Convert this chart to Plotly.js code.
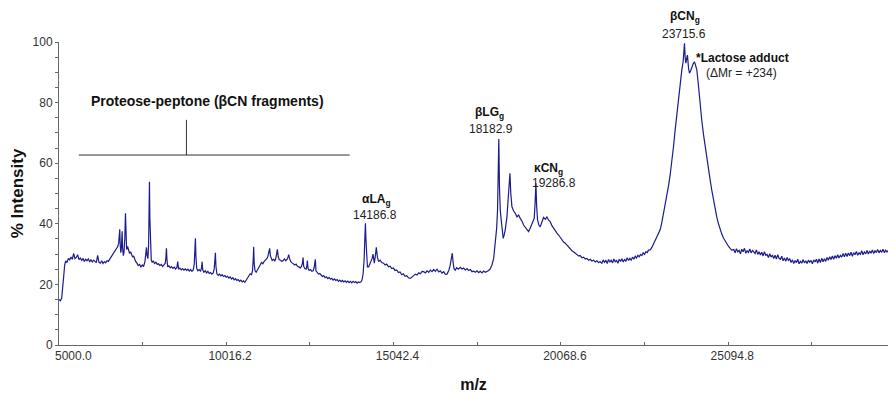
<!DOCTYPE html>
<html><head><meta charset="utf-8">
<script src="https://cdn.plot.ly/plotly-3.0.1.min.js"></script>
<style>html,body{margin:0;padding:0;background:#fff}#chart{width:888px;height:393px}</style>
</head><body><div id="chart"></div>
<script>
// [m/z, % intensity]
const lowMassStart = [
[5000,15.0],[5040,14.6],[5080,15.4],[5110,18.0],[5140,22.5],[5170,26.4],[5200,27.8],[5240,27.2],[5280,28.6],[5320,28.1],
[5360,29.0],[5400,28.3],[5440,30.2],[5480,28.5],[5520,28.9],[5560,29.8],[5600,28.2],[5640,28.7],[5680,27.9],[5720,28.5],
[5760,27.6],[5800,28.3],[5840,27.8],[5880,28.4],[5920,27.5],[5960,28.1],[6000,27.4],[6040,28.0],[6080,27.6],[6120,27.2],
[6160,29.6],[6200,27.3],[6240,27.0],[6280,27.8],[6320,26.9],[6360,27.5],[6400,27.1],[6440,27.8]
];
const peptoneRegion = [
[6480,27.6],[6520,28.3],[6560,28.9],[6600,29.6],[6640,30.2],[6680,30.8],[6720,31.6],[6760,32.4],[6790,33.5],[6810,36.0],
[6824,38.2],[6838,33.0],[6855,30.5],[6870,31.5],[6884,34.5],[6896,37.5],[6910,32.0],[6930,29.5],[6950,30.5],[6975,35.0],
[6995,43.5],[7012,35.0],[7030,31.5],[7060,32.5],[7090,31.0],[7120,30.2],[7150,30.8],[7180,29.6],[7210,29.0],[7240,29.4],
[7270,28.2],[7300,27.6],[7340,27.0],[7380,26.2],[7420,26.6],[7460,25.8],[7500,26.4],[7540,25.9],[7580,27.5],[7610,30.0],
[7626,32.2],[7645,29.5],[7670,28.5],[7690,33.0],[7705,45.0],[7716,53.9],[7728,42.0],[7745,31.0],[7770,28.0],[7800,27.2],
[7830,27.8],[7870,26.9],[7910,27.3],[7950,26.6],[7990,26.8],[8030,26.2],[8070,26.6],[8110,25.9],[8150,26.3],[8190,27.0],
[8210,29.0],[8226,31.9],[8242,28.0],[8265,25.8],[8300,26.1],[8340,25.5],[8380,25.9],[8420,25.3],[8460,25.7],[8500,25.1],
[8540,25.6],[8565,27.5],[8590,25.0],[8630,25.4],[8670,24.8],[8710,25.2],[8750,24.7],[8790,25.1],[8830,24.6],[8870,25.0],
[8910,24.4],[8950,24.9],[8990,24.3],[9030,24.8],[9060,26.5],[9080,30.0],[9096,35.2],[9112,29.0],[9135,25.2],[9170,24.5],
[9210,24.9],[9250,24.3],[9280,25.5],[9297,27.5],[9315,24.8],[9350,24.0],[9390,24.5],[9430,23.8],[9470,24.3],[9510,23.6],
[9550,23.9],[9590,23.4],[9630,23.8],[9660,25.2],[9680,27.5],[9696,30.4],[9712,26.0],[9740,23.5],[9780,23.0],[9820,23.4],
[9860,22.8],[9900,23.2],[9940,22.6],[9980,22.9],[10020,22.4],[10060,22.7],[10100,22.1],[10140,22.5],[10180,21.8],[10220,22.2],
[10260,21.5],[10300,21.9],[10340,21.3],[10380,21.6],[10420,21.0],[10460,21.4],[10500,20.8],[10540,21.2],[10580,20.7],[10620,21.3],
[10660,21.9],[10700,22.8],[10740,23.5],[10780,23.2],[10810,24.5],[10830,28.0],[10845,32.4],[10860,27.0],[10885,24.5],[10920,24.0],
[10960,25.0],[11000,25.6],[11040,26.4],[11080,27.2],[11120,26.8],[11160,27.6],[11200,27.9],[11240,28.5],[11270,29.2],[11300,30.5],
[11325,31.9],[11345,29.5],[11370,28.6],[11400,27.9],[11440,28.3],[11480,27.8],[11510,28.6],[11535,30.0],[11557,31.6],[11580,29.2],
[11610,28.2],[11650,28.0],[11690,27.6],[11730,27.9],[11770,28.4],[11810,27.8],[11850,28.3],[11875,29.0],[11896,29.8],[11920,28.6],
[11960,27.5],[12000,27.1],[12040,26.8],[12080,26.4],[12120,26.7],[12160,26.0],[12200,25.8],[12240,25.4],[12280,25.9],[12310,27.0],
[12328,28.9],[12345,26.0],[12380,25.2],[12420,25.0],[12445,26.3],[12457,27.9],[12475,25.3],[12510,24.6],[12550,24.9],[12590,24.3],
[12630,24.5],[12660,25.5],[12680,27.0],[12697,28.3],[12715,24.5],[12750,23.8],[12790,23.4],[12830,23.6],[12870,22.9],[12910,22.6],
[12950,22.9],[12990,22.2],[13030,22.5],[13070,21.9],[13110,22.3],[13150,21.7],[13190,22.0],[13230,21.4],[13270,21.8],[13310,21.3],
[13350,21.6],[13390,21.0],[13430,21.4],[13470,20.9],[13510,21.3],[13550,20.8],[13590,21.2],[13630,20.7],[13670,21.1],[13710,20.6],
[13750,21.0],[13790,20.5],[13830,21.0],[13870,20.6],[13910,20.9],[13950,20.4],[13990,20.8]
];
const wheyRegion = [
[14030,20.6],[14070,20.9],[14100,21.5],[14130,23.5],[14160,28.0],[14185,36.0],[14200,40.2],[14215,35.0],[14235,27.5],[14260,25.8],
[14297,25.8],[14340,27.0],[14400,28.5],[14428,30.0],[14467,27.0],[14500,29.5],[14527,32.2],[14560,29.0],[14597,27.5],[14640,28.0],
[14690,27.2],[14747,27.0],[14790,26.4],[14840,26.7],[14890,25.8],[14940,26.0],[14990,25.2],[15040,25.4],[15090,24.6],[15140,24.8],
[15190,23.9],[15240,24.1],[15290,23.2],[15340,23.5],[15390,22.7],[15440,22.9],[15490,22.2],[15548,22.0],[15600,22.6],[15650,22.9],
[15700,23.4],[15750,23.1],[15800,23.8],[15850,23.5],[15900,24.3],[15947,24.2],[16000,23.8],[16050,24.5],[16100,24.0],[16150,24.7],
[16200,24.2],[16250,24.9],[16300,24.3],[16350,25.0],[16400,24.1],[16448,24.5],[16500,23.7],[16550,24.2],[16600,23.3],[16648,23.4],
[16700,24.5],[16740,26.0],[16770,28.0],[16790,29.8],[16808,30.3],[16830,27.5],[16860,25.2],[16898,24.7],[16940,25.5],[16990,25.0],
[17048,25.6],[17100,25.1],[17150,25.4],[17200,24.8],[17250,25.2],[17300,24.6],[17350,24.9],[17400,24.2],[17447,24.4],[17500,24.0],
[17550,24.5],[17600,23.9],[17650,24.3],[17700,23.8],[17750,24.4],[17800,24.0],[17849,24.2],[17900,24.6],[17950,25.2],[17999,26.4],
[18050,28.5],[18098,33.6],[18140,38.5],[18167,44.6],[18190,58.0],[18205,68.0],[18225,52.0],[18248,44.6],[18287,40.2],[18315,36.5],
[18338,35.2],[18370,36.5],[18398,38.0],[18449,42.3],[18490,48.0],[18520,54.0],[18539,56.7],[18565,50.0],[18599,45.6],[18650,44.2],
[18698,43.5],[18750,42.3],[18800,42.9],[18848,41.8],[18900,40.9],[18948,39.6],[19000,38.9],[19050,38.0],[19098,37.4],[19150,38.6],
[19199,40.2],[19240,41.2],[19268,41.8],[19295,47.0],[19319,53.4],[19340,46.0],[19368,41.3],[19410,39.5],[19448,39.0],[19500,40.6],
[19548,42.1],[19600,41.5],[19649,42.3],[19700,41.2],[19748,40.7],[19800,39.4],[19850,38.5],[19900,37.6],[19949,36.9],[20000,36.3],
[20050,35.4],[20100,34.9],[20150,34.0],[20200,33.6],[20249,33.0],[20300,32.2],[20350,31.8],[20400,31.1],[20448,30.8],[20500,30.2],
[20550,29.9],[20600,29.4],[20650,29.5],[20700,28.8],[20750,29.0],[20800,28.4],[20849,28.6],[20900,28.0],[20950,28.3],[21000,27.7],
[21050,28.0],[21100,27.4],[21150,27.8],[21200,27.2],[21249,27.5]
];
const caseinRegion = [
[21300,27.0],[21340,28.1],[21380,27.3],[21420,27.9],[21460,26.9],[21500,28.2],[21540,27.4],[21580,28.0],[21620,27.1],[21660,28.4],
[21700,27.5],[21740,27.9],[21780,27.0],[21820,28.3],[21860,27.6],[21900,28.5],[21940,27.4],[21980,28.2],[22020,27.7],[22060,28.8],
[22100,27.9],[22140,28.6],[22180,28.0],[22220,29.0],[22260,28.3],[22300,29.3],[22340,28.7],[22380,29.6],[22420,29.1],[22460,29.9],
[22500,29.5],[22540,30.4],[22580,29.9],[22620,30.8],[22660,30.5],[22700,31.3],[22749,31.4],[22800,32.2],[22850,33.4],[22900,34.5],
[22950,35.6],[23000,36.8],[23049,38.0],[23100,40.5],[23150,43.3],[23200,46.0],[23250,48.9],[23300,52.5],[23350,56.2],[23400,60.0],
[23450,65.5],[23500,71.0],[23550,76.5],[23600,81.5],[23650,86.0],[23700,90.8],[23740,93.5],[23765,97.0],[23779,99.6],[23800,95.0],
[23821,93.0],[23845,94.5],[23869,95.7],[23900,91.5],[23929,89.7],[23965,90.5],[24001,91.9],[24040,92.8],[24079,93.5],[24115,92.2],
[24151,90.8],[24200,85.5],[24250,78.6],[24300,74.0],[24350,69.5],[24400,65.4],[24450,61.6],[24500,58.0],[24550,54.5],[24600,51.0],
[24650,47.6],[24700,44.6],[24750,42.2],[24800,40.0],[24850,38.0],[24900,36.6],[24950,35.3],[25000,34.3],[25050,33.6],[25100,32.6],
[25150,31.9],[25200,31.3],[25260,31.5],[25300,30.4],[25340,31.8],[25380,30.7],[25420,31.2],[25460,30.1],[25500,31.6],[25540,30.8],
[25580,31.9],[25620,30.3],[25660,31.1],[25700,30.6],[25740,31.7],[25780,30.4],[25820,31.2],[25860,30.8],[25900,30.2],[25940,31.4],
[25980,29.9],[26020,30.8],[26060,29.7],[26100,30.6],[26140,29.4],[26180,30.8],[26220,29.6],[26260,29.9],[26300,28.9],[26340,30.1],
[26380,29.0],[26420,29.7],[26460,28.5],[26500,29.6],[26540,28.4],[26580,29.8],[26620,28.6],[26660,28.3],[26700,29.3],[26740,27.8],
[26780,28.7],[26820,27.6],[26860,28.9],[26900,27.9],[26940,28.4],[26980,27.2],[27020,28.1],[27060,26.9],[27100,27.9],[27140,27.2],
[27180,28.3],[27220,26.8],[27260,27.6],[27300,27.0],[27340,28.2],[27380,27.1],[27420,27.8],[27460,26.9],[27500,28.0],[27540,27.3],
[27580,27.9],[27620,26.8],[27660,28.1],[27700,27.4],[27740,28.3],[27780,27.0],[27820,28.4],[27860,27.2],[27900,28.6],[27940,27.5],
[27980,28.5],[28020,27.6],[28060,28.9],[28100,28.0],[28140,29.1],[28180,28.2],[28220,29.4],[28260,28.3],[28300,29.5],[28340,28.6],
[28380,29.8],[28420,28.7],[28460,29.6],[28500,29.0],[28540,30.2],[28580,29.1],[28620,30.3],[28660,29.2],[28700,30.4],[28740,29.5],
[28780,30.6],[28820,29.3],[28860,30.5],[28900,29.8],[28940,30.9],[28980,29.6],[29020,30.4],[29060,29.9],[29100,31.1],[29140,29.8],
[29180,30.7],[29220,30.1],[29260,31.2],[29300,30.0],[29340,31.0],[29380,30.3],[29420,31.4],[29460,30.2],[29500,31.1],[29540,30.5],
[29580,31.5],[29620,30.4],[29660,31.2],[29700,30.6],[29740,31.6],[29780,30.5],[29820,31.3],[29860,30.7],[29890,31.2]
];

const spectrum = [].concat(lowMassStart, peptoneRegion, wheyRegion, caseinRegion);
const mz = spectrum.map(p => p[0]);
const intensity = spectrum.map(p => p[1]);

const xTickValues = [5000, 7508.1, 10016.2, 12529.3, 15042.4, 17555.5, 20068.6, 22581.7, 25094.8, 27607.9];
const xTickLabels = ['', '', '10016.2', '', '15042.4', '', '20068.6', '', '25094.8', ''];
const yTickValues = [0,5,10,15,20,25,30,35,40,45,50,55,60,65,70,75,80,85,90,95,100];
const yTickLabels = ['0','','','','20','','','','40','','','','60','','','','80','','','','100'];

const peakNames  = ['αLA<sub>g</sub>', 'βLG<sub>g</sub>', 'κCN<sub>g</sub>', 'βCN<sub>g</sub>'];
const peakMasses = ['14186.8', '18182.9', '19286.8', '23715.6'];

const FONT = 'Liberation Sans, Arial, sans-serif';
const nameX = [14527, 17920, 19688, 23800];
const nameY = [0.478, 0.766, 0.581, 1.082];
const massX = [14497, 17960, 19853, 23770];
const massY = [0.429, 0.713, 0.535, 1.026];

const annotations = [];
for (let i = 0; i < peakNames.length; i++) {
  annotations.push({x: nameX[i], y: nameY[i], xref: 'x', yref: 'paper', text: '<b>' + peakNames[i] + '</b>',
    showarrow: false, xanchor: 'center', yanchor: 'middle', font: {family: FONT, size: 12, color: '#111'}});
  annotations.push({x: massX[i], y: massY[i], xref: 'x', yref: 'paper', text: peakMasses[i],
    showarrow: false, xanchor: 'center', yanchor: 'middle', font: {family: FONT, size: 12, color: '#222'}});
}
annotations.push({x: 25519, y: 0.947, xref: 'x', yref: 'paper', text: '<b>*Lactose adduct</b>', showarrow: false,
  xanchor: 'center', yanchor: 'middle', font: {family: FONT, size: 12, color: '#111'}});
annotations.push({x: 25501, y: 0.898, xref: 'x', yref: 'paper', text: '(ΔMr = +234)', showarrow: false,
  xanchor: 'center', yanchor: 'middle', font: {family: FONT, size: 12, color: '#222'}});
annotations.push({x: 9456, y: 0.805, xref: 'x', yref: 'paper', text: '<b>Proteose-peptone (βCN fragments)</b>', showarrow: false,
  xanchor: 'center', yanchor: 'middle', font: {family: FONT, size: 14, color: '#111'}});
annotations.push({x: 5435, y: -0.035, xref: 'x', yref: 'paper', text: '5000.0', showarrow: false,
  xanchor: 'center', yanchor: 'middle', font: {family: FONT, size: 12, color: '#333'}});

const shapes = [
  {type: 'line', xref: 'x', yref: 'y', x0: 5594, x1: 13726, y0: 62.7, y1: 62.7, line: {color: '#333', width: 1}},
  {type: 'line', xref: 'x', yref: 'y', x0: 8826, x1: 8826, y0: 62.7, y1: 74.3, line: {color: '#333', width: 1}}
];

const trace = {
  x: mz, y: intensity, type: 'scatter', mode: 'lines',
  line: {color: '#1c1c8c', width: 1.2}, hoverinfo: 'x+y'
};

const layout = {
  width: 888, height: 393,
  margin: {l: 58.5, r: 0, t: 42, b: 48, pad: 0},
  paper_bgcolor: '#fff', plot_bgcolor: '#fff',
  showlegend: false,
  font: {family: FONT, size: 12, color: '#333'},
  xaxis: {
    range: [5000, 29890], showgrid: false, zeroline: false,
    showline: true, linecolor: '#666', linewidth: 1,
    tickmode: 'array', tickvals: xTickValues, ticktext: xTickLabels,
    ticks: 'inside', ticklen: 3, tickcolor: '#666', ticklabelshift: 4,
    tickfont: {family: FONT, size: 12, color: '#333'},
    title: {text: '<b>m/z</b>', font: {family: FONT, size: 16, color: '#111'}, standoff: 21},
    automargin: false
  },
  yaxis: {
    range: [0, 100], showgrid: false, zeroline: false,
    showline: true, linecolor: '#666', linewidth: 1,
    tickmode: 'array', tickvals: yTickValues, ticktext: yTickLabels,
    ticks: 'outside', ticklen: 3, tickcolor: '#666',
    tickfont: {family: FONT, size: 12, color: '#333'},
    title: {text: '<b>% Intensity</b>', font: {family: FONT, size: 17, color: '#111'}, standoff: 4},
    automargin: false
  },
  annotations: annotations,
  shapes: shapes
};

Plotly.newPlot('chart', [trace], layout, {displayModeBar: false, staticPlot: true});
</script>
</body></html>
